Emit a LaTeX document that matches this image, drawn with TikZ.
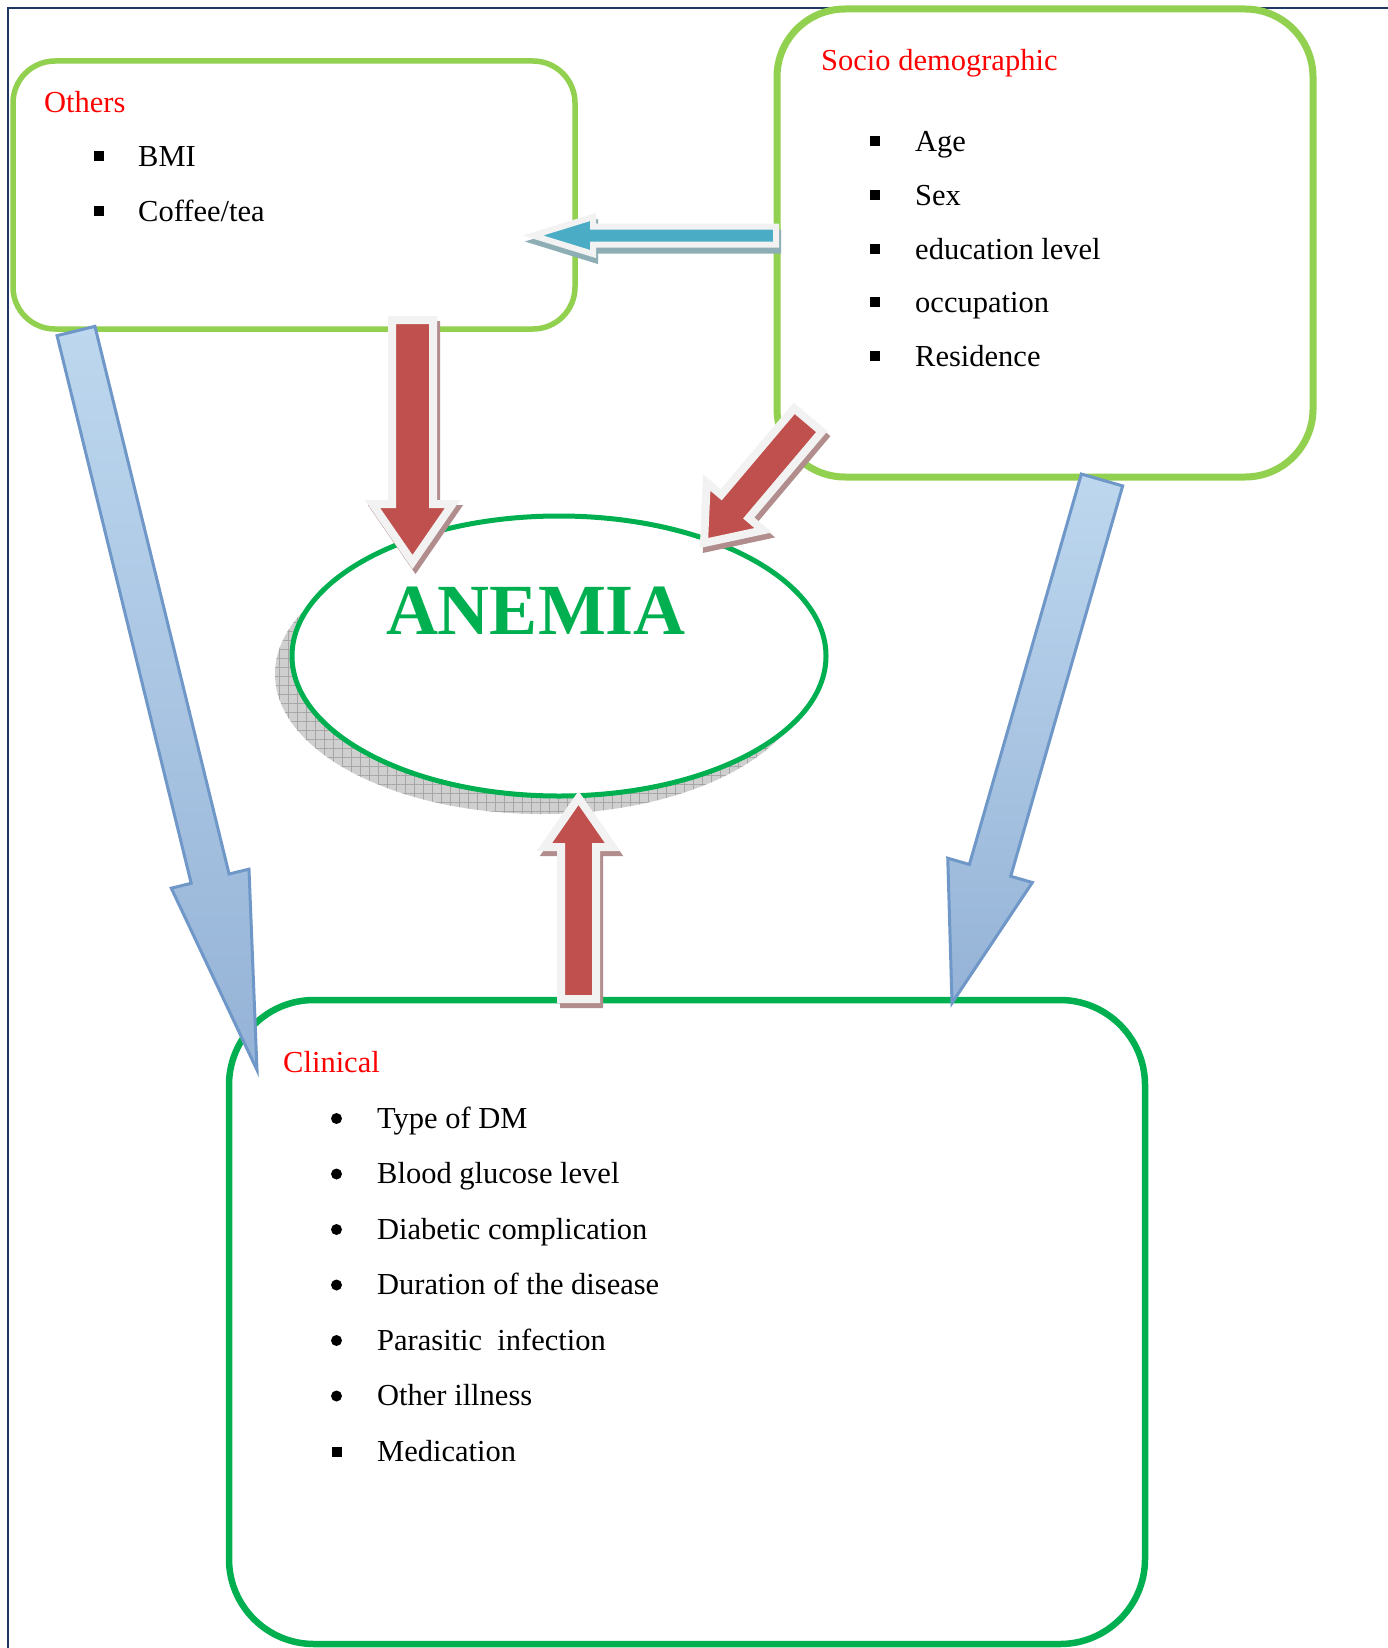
\documentclass[tikz,border=0pt]{standalone}
\usepackage{fontspec}
\setmainfont{Liberation Serif}
\usetikzlibrary{calc,shapes.geometric,patterns.meta}

\definecolor{lgreen}{HTML}{92D050}
\definecolor{dgreen}{HTML}{00B050}
\definecolor{navyline}{HTML}{1F3864}
\definecolor{hdrred}{HTML}{FF0000}
\definecolor{arrowred}{HTML}{C0504D}
\definecolor{outlgray}{HTML}{F2F2F2}
\definecolor{redshade}{HTML}{B28D8D}
\definecolor{tealfill}{HTML}{4BACC6}
\definecolor{tealshade}{HTML}{8EAEB6}
\definecolor{blueA}{HTML}{BDD7EE}
\definecolor{blueB}{HTML}{95B3D7}
\definecolor{blueline}{HTML}{6F97C8}

% block arrow: style, tail, tip, shaft half width, head half width, head length
\newcommand{\blockarrow}[6]{%
  \path ($(#3)!#6!(#2)$) coordinate (bbase);
  \draw[#1] ($(#2)!#4!90:(#3)$) -- ($(bbase)!#4!90:(#3)$) -- ($(bbase)!#5!90:(#3)$) -- (#3)
    -- ($(bbase)!#5!-90:(#3)$) -- ($(bbase)!#4!-90:(#3)$) -- ($(#2)!#4!-90:(#3)$) -- cycle;
}

\begin{document}
\begin{tikzpicture}[x=1pt, y=-1pt,
  txt/.style={anchor=base west, inner sep=0pt, font=\fontsize{30.5}{36}\selectfont},
  hdr/.style={txt, text=hdrred},
  sqb/.style={rectangle, fill=black, inner sep=0pt, minimum size=10pt},
  rdb/.style={circle, fill=black, inner sep=0pt, minimum size=11pt},
  box/.style={rectangle, fill=white, inner sep=0pt},
  redarrow/.style={fill=arrowred, draw=outlgray, line width=8pt, line join=miter},
  redshadow/.style={fill=redshade, draw=redshade, line width=8pt, line join=miter},
  tealarrow/.style={fill=tealfill, draw=outlgray, line width=6pt, line join=miter},
  tealshadow/.style={fill=tealshade, draw=tealshade, line width=6pt, line join=miter},
  bluearrow/.style={top color=blueA, bottom color=blueB, draw=blueline, line width=3pt, line join=miter}]

  \useasboundingbox[fill=white] (0,0) rectangle (1388,1648);

  % Frame
  \draw[navyline, line width=1.5pt] (8,1648) -- (8,8) -- (1388,8);

  % Boxes
  \node[box, draw=lgreen, line width=5.5pt, rounded corners=42pt,
    minimum width=562pt, minimum height=268pt] (others) at (294,195) {};
  \node[box, draw=lgreen, line width=7pt, rounded corners=68pt,
    minimum width=536pt, minimum height=468pt] (socio) at (1045,243) {};
  \node[box, draw=dgreen, line width=6.5pt, rounded corners=85pt,
    minimum width=916pt, minimum height=644pt] (clinical) at (687,1322) {};

  % Anemia ellipse and its shadow
  \path[preaction={fill=gray!38}, pattern={Hatch[angle=0, distance=9pt, line width=0.5pt]},
    pattern color=gray!70] (542,674) ellipse [x radius=267pt, y radius=140pt];
  \node[ellipse, draw=dgreen, line width=5pt, fill=white, inner sep=0pt,
    minimum width=534pt, minimum height=280pt] (anemia) at (559,656) {};
  \node[anchor=base, inner sep=0pt, text=dgreen, font=\fontsize{72}{80}\selectfont\bfseries]
    (anemiaTxt) at (536,634) {ANEMIA};

  % Arrow ends
  \coordinate (othSW) at (76,331);
  \coordinate (clinNW) at (257,1070);
  \coordinate (socS) at (1102,480);
  \coordinate (clinNE) at (952,1003);
  \coordinate (socW) at (776,235.5);
  \coordinate (othE) at (533,235.5);
  \coordinate (othS) at (412.5,320);
  \coordinate (anemiaNW) at (412.5,562);
  \coordinate (socSW) at (808,420);
  \coordinate (anemiaNE) at (704,543);
  \coordinate (clinN) at (578.5,999);
  \coordinate (anemiaS) at (578.5,798);

  % Blue arrows to clinical
  \blockarrow{bluearrow}{othSW}{clinNW}{19.5pt}{40pt}{197pt}
  \blockarrow{bluearrow}{socS}{clinNE}{21.5pt}{44pt}{138pt}

  % Socio to others
  \begin{scope}[transform canvas={xshift=2pt, yshift=-6pt}]
    \blockarrow{tealshadow}{socW}{othE}{9pt}{18.5pt}{60pt}
  \end{scope}
  \blockarrow{tealarrow}{socW}{othE}{9pt}{18.5pt}{60pt}

  % Red arrows to anemia
  \begin{scope}[transform canvas={xshift=3pt, yshift=-5pt}]
    \blockarrow{redshadow}{othS}{anemiaNW}{20.5pt}{40pt}{58pt}
    \blockarrow{redshadow}{socSW}{anemiaNE}{18pt}{37pt}{48pt}
    \blockarrow{redshadow}{clinN}{anemiaS}{17.5pt}{34pt}{49pt}
  \end{scope}
  \blockarrow{redarrow}{othS}{anemiaNW}{20.5pt}{40pt}{58pt}
  \blockarrow{redarrow}{socSW}{anemiaNE}{18pt}{37pt}{48pt}
  \blockarrow{redarrow}{clinN}{anemiaS}{17.5pt}{34pt}{49pt}

  % Others
  \node[hdr] (othHdr) at (44,113) {Others};
  \foreach \t [count=\i] in {BMI, Coffee/tea} {
    \node[txt] (oth\i) at (138,{167+54*(\i-1)}) {\t};
    \node[sqb] (othb\i) at (99,{156.5+54*(\i-1)}) {};
  }

  % Socio demographic
  \node[hdr] (socHdr) at (821,71) {Socio demographic};
  \foreach \t [count=\i] in {Age, Sex, education level, occupation, Residence} {
    \node[txt] (soc\i) at (915,{152+53.5*(\i-1)}) {\t};
    \node[sqb] (socb\i) at (875,{141.5+53.5*(\i-1)}) {};
  }

  % Clinical
  \node[hdr] (clinHdr) at (283,1072) {Clinical};
  \foreach \t/\b [count=\i] in {Type of DM/rdb, Blood glucose level/rdb,
      Diabetic complication/rdb, Duration of the disease/rdb,
      Parasitic\ \ infection/rdb, Other illness/rdb, Medication/sqb} {
    \node[txt] (clin\i) at (377,{1128+55.5*(\i-1)}) {\t};
    \node[\b] (clinb\i) at (336.5,{1118.5+55.5*(\i-1)}) {};
  }
\end{tikzpicture}
\end{document}
